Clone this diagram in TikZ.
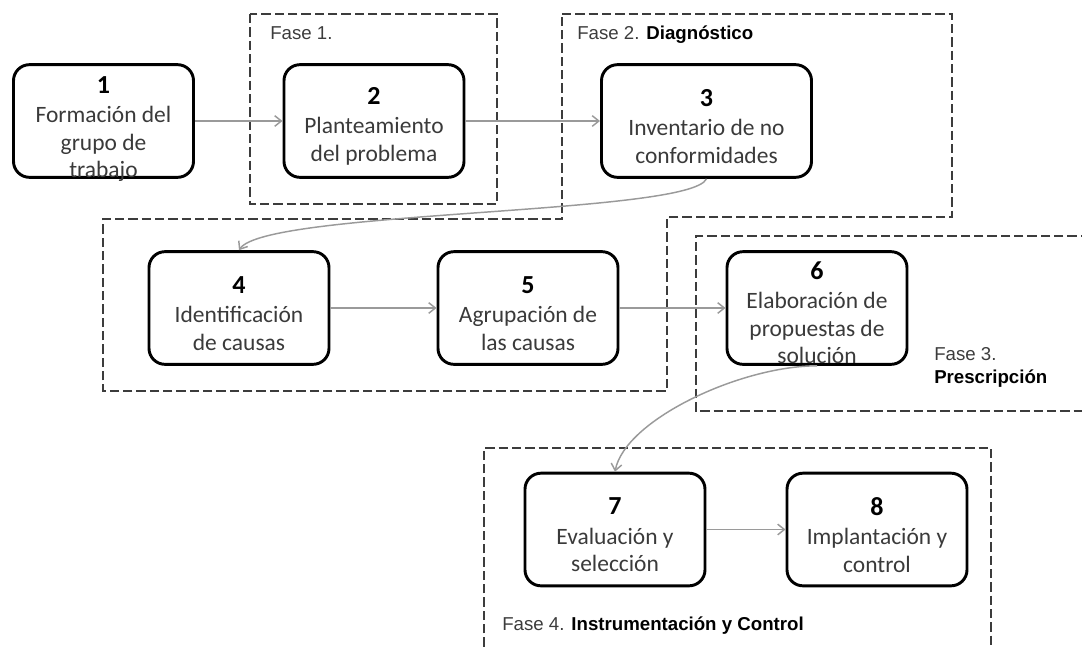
\documentclass[tikz,border=0pt]{standalone}
\usepackage{fontspec}
\setmainfont{Carlito}
\newfontfamily\labfont{Liberation Sans}
\usetikzlibrary{arrows.meta}
\definecolor{boxtext}{HTML}{3A3A3A}
\definecolor{flow}{HTML}{9A9A9A}
\definecolor{phase}{HTML}{3C3C3C}
\newcommand{\stepno}[1]{{\fontsize{19.5pt}{22pt}\selectfont\bfseries\color{black}#1}\\[1.5pt]}
\begin{document}
\begin{tikzpicture}[x=0.75pt,y=-0.75pt,
  stepbox/.style={draw=black, line width=2.2pt, rounded corners=12pt,
    minimum height=84.5pt, inner sep=0pt},
  steptext/.style={inner sep=0pt, align=center, yshift=-4pt,
    font=\fontsize{17.6pt}{20.6pt}\selectfont, text=boxtext},
  flowarrow/.style={draw=flow, line width=1.1pt,
    -{Straight Barb[length=5pt,width=8pt]}},
  phasebox/.style={draw=phase, line width=0.9pt, dash pattern=on 7pt off 3pt},
  phaselabel/.style={anchor=base west, inner sep=0pt, text=phase,
    font=\labfont\fontsize{14pt}{17pt}\selectfont}
]
\useasboundingbox (0,0) rectangle (1082,647);

% phase frames
\draw[phasebox] (250,14) rectangle (497,204);
\draw[phasebox] (562,14) -- (952,14) -- (952,217) -- (667,217) -- (667,391)
  -- (103,391) -- (103,219) -- (562,219) -- cycle;
\draw[phasebox] (1090,236) -- (696,236) -- (696,411) -- (1090,411);
\draw[phasebox] (484,660) -- (484,448) -- (991,448) -- (991,660);

% phase labels
\node[phaselabel] (f1) at (270,39.5) {Fase 1.};
\node[phaselabel] (f2) at (577,39.5) {Fase 2. \textbf{\color{black}Diagnóstico}};
\node[phaselabel] (f3a) at (934,360.5) {Fase 3.};
\node[phaselabel] (f3b) at (934,383.5) {\textbf{\color{black}Prescripción}};
\node[phaselabel] (f4) at (502,630.5) {Fase 4. \textbf{\color{black}Instrumentación y Control}};

% process steps
\node[stepbox, minimum width=135pt,
  label={[steptext, yshift=-2pt]center:{\stepno{1}Formación del\\grupo de\\trabajo}}] (n1) at (103.5,121) {};
\node[stepbox, minimum width=135pt,
  label={[steptext]center:{\stepno{2}Planteamiento\\del problema}}] (n2) at (374,121) {};
\node[stepbox, minimum width=157.5pt,
  label={[steptext]center:{\stepno{3}Inventario de no\\conformidades}}] (n3) at (706.5,121) {};
\node[stepbox, minimum width=135pt,
  label={[steptext]center:{\stepno{4}Identificación\\de causas}}] (n4) at (239,308) {};
\node[stepbox, minimum width=135pt,
  label={[steptext]center:{\stepno{5}Agrupación de\\las causas}}] (n5) at (528,308) {};
\node[stepbox, minimum width=135pt,
  label={[steptext, yshift=0.5pt]center:{\stepno{6}Elaboración de\\propuestas de\\solución}}] (n6) at (817,308) {};
\node[stepbox, minimum width=135pt,
  label={[steptext]center:{\stepno{7}Evaluación y\\selección}}] (n7) at (615,529.5) {};
\node[stepbox, minimum width=135pt,
  label={[steptext]center:{\stepno{8}Implantación y\\control}}] (n8) at (877,529.5) {};

% connectors
\draw[flowarrow] (n1) -- (n2);
\draw[flowarrow] (n2) -- (n3);
\draw[flowarrow] (n3.south) .. controls (690,215) and (265,210) .. (n4.north);
\draw[flowarrow] (n4) -- (n5);
\draw[flowarrow] (n5) -- (n6);
\draw[flowarrow] (n6.south) .. controls (740,366) and (625,420) .. (n7.north);
\draw[flowarrow] (n7) -- (n8);
\end{tikzpicture}
\end{document}
